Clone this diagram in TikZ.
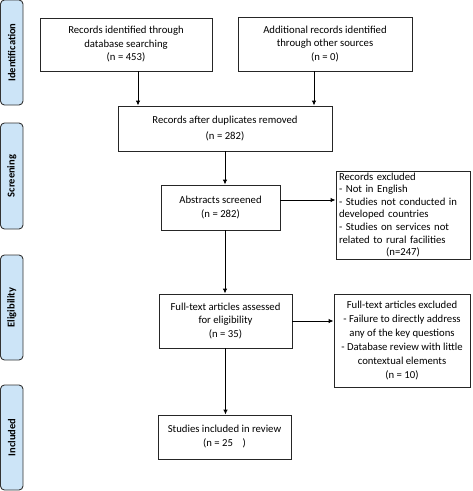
\documentclass[tikz,border=0pt]{standalone}
\usepackage{fontspec}
\setmainfont{Carlito}
\usetikzlibrary{arrows.meta}
\definecolor{barblue}{HTML}{CCE4F7}
\begin{document}
\begin{tikzpicture}[x=1pt,y=-1pt,
  box/.style={draw=black!85,line width=0.9pt,fill=white,inner sep=0pt,align=center,
    font=\fontsize{10.7}{13.5}\selectfont},
  sidebar/.style={draw=black!80,line width=0.9pt,fill=barblue,rounded corners=4pt,
    minimum width=22.5pt,inner sep=0pt},
  sidetext/.style={rotate=90,font=\fontsize{10.5}{12}\selectfont\bfseries},
  arr/.style={line width=0.9pt,-{Latex[length=5pt,width=4.5pt]}}]
\useasboundingbox (0,0) rectangle (473,491);
% side bars
\node[sidebar,minimum height=105pt] (s1) at (11.75,52.5) {};
\node[sidetext] (t1) at (s1.center) {Identification};
\node[sidebar,minimum height=106pt] (s2) at (11.75,176) {};
\node[sidetext] (t2) at (s2.center) {Screening};
\node[sidebar,minimum height=105pt] (s3) at (11.75,307.5) {};
\node[sidetext] (t3) at (s3.center) {Eligibility};
\node[sidebar,minimum height=105pt] (s4) at (11.75,437.5) {};
\node[sidetext] (t4) at (s4.center) {Included};
% boxes
\node[box,minimum width=172pt,minimum height=53pt] (b1) at (126,44.5)
  {Records identified through\\database searching\\(n = 453)};
\node[box,minimum width=174pt,minimum height=54pt] (b2) at (325,44)
  {Additional records identified\\through other sources\\(n = 0)};
\node[box,minimum width=214pt,minimum height=45pt,font=\fontsize{10.7}{16}\selectfont] (b3) at (225,128.5)
  {Records after duplicates removed\\(n = 282)};
\node[box,minimum width=119pt,minimum height=45pt] (b4) at (220.5,207.5)
  {Abstracts screened\\(n = 282)};
\node[box,minimum width=134pt,minimum height=88pt,text width=128pt,align=left,
  font=\fontsize{10.7}{12.6}\selectfont] (b5) at (403,215)
  {\parskip=0pt\raggedright Records excluded\\- Not in English\\- Studies not conducted in\\developed countries\\- Studies on services not\\related to rural facilities\par\centering (n=247)\par};
\node[box,minimum width=133pt,minimum height=54pt] (b6) at (225.5,321)
  {Full-text articles assessed\\for eligibility\\(n = 35)};
\node[box,minimum width=136pt,minimum height=93pt,font=\fontsize{10.7}{14}\selectfont] (b7) at (402,340.5)
  {Full-text articles excluded\\- Failure to directly address\\any of the key questions\\- Database review with little\\contextual elements\\(n = 10)};
\node[box,minimum width=133pt,minimum height=44pt,font=\fontsize{10.7}{14}\selectfont] (b8) at (224.5,437)
  {Studies included in review\\(n = 25\ \ \ \ )};
% connectors
\draw[arr] ([xshift=12pt]b1.south) -- ([xshift=12pt]b1.south |- b3.north);
\draw[arr] ([xshift=-11pt]b2.south) -- ([xshift=-11pt]b2.south |- b3.north);
\draw[arr] (b3.south) -- (b3.south |- b4.north);
\draw[arr] ([yshift=7.5pt]b4.east) -- ([yshift=7.5pt]b4.east -| b5.west);
\draw[arr] (b3.south |- b4.south) -- (b3.south |- b6.north);
\draw[arr] (b6.east) -- (b6.east -| b7.west);
\draw[arr] (b6.south) -- (b6.south |- b8.north);
\end{tikzpicture}
\end{document}
